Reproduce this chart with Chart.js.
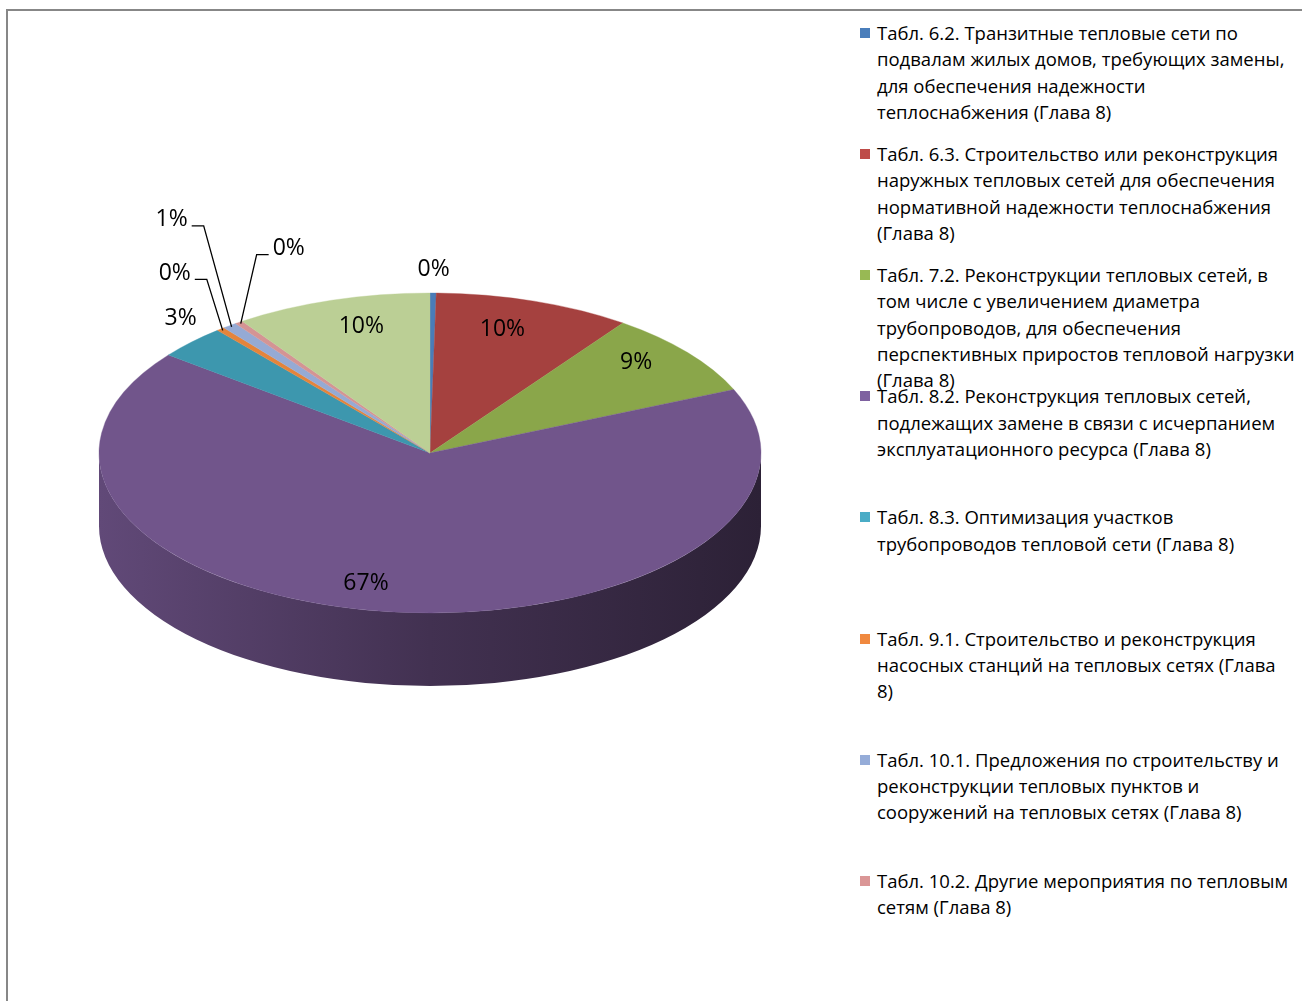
<!DOCTYPE html>
<html lang="ru">
<head>
<meta charset="utf-8">
<title>Мероприятия по тепловым сетям</title>
<script src="https://cdn.jsdelivr.net/npm/chart.js@4"></script>
<style>
  html, body { margin: 0; padding: 0; background: #fff; width: 1302px; height: 1001px; overflow: hidden; }
  #frame { position: absolute; left: 6px; top: 9px; width: 1400px; height: 1100px;
           border-left: 2px solid #878787; border-top: 2px solid #878787; }
  #pie { position: absolute; left: 0; top: 0; }
  #legend { position: absolute; left: 860px; top: 0; font-family: 'Open Sans', sans-serif; font-size: 18.5px; color: #000; }
  .item { position: absolute; left: 0; white-space: nowrap; line-height: 26.3px; }
  .item .box { position: absolute; left: 0; top: 8px; width: 10px; height: 10px; }
  .item .txt { position: absolute; left: 17px; top: 0; }
</style>
</head>
<body>
<div id="frame"></div>
<canvas id="pie" width="860" height="1001"></canvas>
<div id="legend"></div>

<script>
// Categories (legend lines as in the source), 9th slice has no legend entry
const categories = [
  ['Табл. 6.2. Транзитные тепловые сети по', 'подвалам жилых домов, требующих замены,', 'для обеспечения надежности', 'теплоснабжения (Глава 8)'],
  ['Табл. 6.3. Строительство или реконструкция', 'наружных тепловых сетей для обеспечения', 'нормативной надежности теплоснабжения', '(Глава 8)'],
  ['Табл. 7.2. Реконструкции тепловых сетей, в', 'том числе с увеличением диаметра', 'трубопроводов, для обеспечения', 'перспективных приростов тепловой нагрузки', '(Глава 8)'],
  ['Табл. 8.2. Реконструкция тепловых сетей,', 'подлежащих замене в связи с исчерпанием', 'эксплуатационного ресурса (Глава 8)'],
  ['Табл. 8.3. Оптимизация участков', 'трубопроводов тепловой сети (Глава 8)'],
  ['Табл. 9.1. Строительство и реконструкция', 'насосных станций на тепловых сетях (Глава', '8)'],
  ['Табл. 10.1. Предложения по строительству и', 'реконструкции тепловых пунктов и', 'сооружений на тепловых сетях (Глава 8)'],
  ['Табл. 10.2. Другие мероприятия по тепловым', 'сетям (Глава 8)'],
  ''
];

// Share of each item, %
const shares = [0.3, 9.6, 8.6, 67.0, 3.4, 0.4, 0.7, 0.4, 9.6];

// Colours: lit top face and legend marker
const topColors = ['#4A7CB8', '#A5413F', '#8AA64A', '#71558B', '#3D97AE', '#E5843A', '#95AAD4', '#D49494', '#BBCF95'];
const legendColors = ['#4A7EBB', '#BE4B48', '#98B954', '#7E61A0', '#4AACC6', '#F0893F', '#95ACD8', '#DA9696', '#C3D69B'];

// Tilted pie geometry on the page
const PIE = { cx: 430, cy: 453, rx: 331, ry: 160, depth: 73 };

// Label placement: r = radius factor on the ellipse (+ sx/sy nudge),
// dx/dy = offset from the slice edge, drawn with a leader line
const labelPlace = [
  { r: 1.15 },
  { r: 0.8, sx: -11, sy: -2 },
  { r: 0.8, sy: -10 },
  { r: 0.82, sx: -30 },
  { r: 1.0, sx: -11, sy: -24 },
  { dx: -48, dy: -57 },
  { dx: -60, dy: -107 },
  { dx: 48, dy: -75 },
  { r: 0.8, sx: 10, sy: -4 }
];

const LEGEND = { top: 20, step: 121.1 };

function shade(hex, f) {
  const n = parseInt(hex.slice(1), 16);
  const r = Math.round(((n >> 16) & 255) * f);
  const g = Math.round(((n >> 8) & 255) * f);
  const b = Math.round((n & 255) * f);
  return `rgb(${r},${g},${b})`;
}

function ellipsePoint(angle, r) {
  return {
    x: PIE.cx + r * PIE.rx * Math.cos(angle),
    y: PIE.cy + r * PIE.ry * Math.sin(angle)
  };
}

// Side wall of the front half
function drawSides(chart) {
  const ctx = chart.ctx;
  const arcs = chart.getDatasetMeta(0).data;
  arcs.forEach((arc, i) => {
    const a1 = Math.max(arc.startAngle, 0);
    const a2 = Math.min(arc.endAngle, Math.PI);
    if (a2 <= a1) return;
    const grad = ctx.createLinearGradient(PIE.cx - PIE.rx, 0, PIE.cx + PIE.rx, 0);
    grad.addColorStop(0, shade(topColors[i], 0.86));
    grad.addColorStop(0.5, shade(topColors[i], 0.58));
    grad.addColorStop(1, shade(topColors[i], 0.39));
    ctx.save();
    ctx.beginPath();
    ctx.ellipse(PIE.cx, PIE.cy, PIE.rx, PIE.ry, 0, a1, a2);
    ctx.ellipse(PIE.cx, PIE.cy + PIE.depth, PIE.rx, PIE.ry, 0, a2, a1, true);
    ctx.closePath();
    ctx.fillStyle = grad;
    ctx.fill();
    ctx.restore();
  });
}

function drawLabels(chart) {
  const ctx = chart.ctx;
  const arcs = chart.getDatasetMeta(0).data;
  const values = chart.data.datasets[0].data;
  const total = values.reduce((a, b) => a + b, 0);
  ctx.save();
  ctx.font = "23px 'Open Sans'";
  ctx.fillStyle = '#000';
  ctx.strokeStyle = '#000';
  ctx.lineWidth = 1.3;
  ctx.textAlign = 'center';
  ctx.textBaseline = 'middle';
  arcs.forEach((arc, i) => {
    const text = Math.round(values[i] / total * 100) + '%';
    const mid = (arc.startAngle + arc.endAngle) / 2;
    const place = labelPlace[i];
    if (place.r !== undefined) {
      const p = ellipsePoint(mid, place.r);
      ctx.fillText(text, p.x + (place.sx || 0), p.y + (place.sy || 0));
      return;
    }
    const edge = ellipsePoint(mid, 0.99);
    const tx = edge.x + place.dx;
    const ty = edge.y + place.dy;
    const half = ctx.measureText(text).width / 2;
    const side = place.dx < 0 ? 1 : -1;
    const lineY = ty + 6;
    const x0 = tx + side * (half + 4);
    const x1 = x0 + side * 12;
    ctx.beginPath();
    ctx.moveTo(x0, lineY);
    ctx.lineTo(x1, lineY);
    ctx.lineTo(edge.x, edge.y);
    ctx.stroke();
    ctx.fillText(text, tx, ty);
  });
  ctx.restore();
}

const tiltPlugin = {
  id: 'tilt',
  beforeDatasetsDraw(chart) {
    const arc = chart.getDatasetMeta(0).data[0];
    const ctx = chart.ctx;
    drawSides(chart);
    ctx.save();
    ctx.translate(PIE.cx, PIE.cy);
    ctx.scale(PIE.rx / arc.outerRadius, PIE.ry / arc.outerRadius);
    ctx.translate(-arc.x, -arc.y);
  },
  afterDatasetsDraw(chart) {
    chart.ctx.restore();
    drawLabels(chart);
  }
};

function buildLegend(chart) {
  const box = document.getElementById('legend');
  chart.data.labels.forEach((label, i) => {
    if (!label || !label.length) return;
    const item = document.createElement('div');
    item.className = 'item';
    item.style.top = (LEGEND.top + i * LEGEND.step) + 'px';
    const mark = document.createElement('span');
    mark.className = 'box';
    mark.style.background = legendColors[i];
    const txt = document.createElement('span');
    txt.className = 'txt';
    txt.innerHTML = [].concat(label).join('<br>');
    item.appendChild(mark);
    item.appendChild(txt);
    box.appendChild(item);
  });
}

document.addEventListener('DOMContentLoaded', () => {
  const chart = new Chart(document.getElementById('pie'), {
    type: 'pie',
    data: {
      labels: categories,
      datasets: [{
        data: shares,
        backgroundColor: topColors,
        borderColor: topColors,
        borderWidth: 0.6
      }]
    },
    options: {
      responsive: false,
      animation: false,
      events: [],
      layout: { padding: 20 },
      plugins: {
        legend: { display: false },
        tooltip: { enabled: false }
      }
    },
    plugins: [tiltPlugin]
  });
  buildLegend(chart);
});
</script>
</body>
</html>
